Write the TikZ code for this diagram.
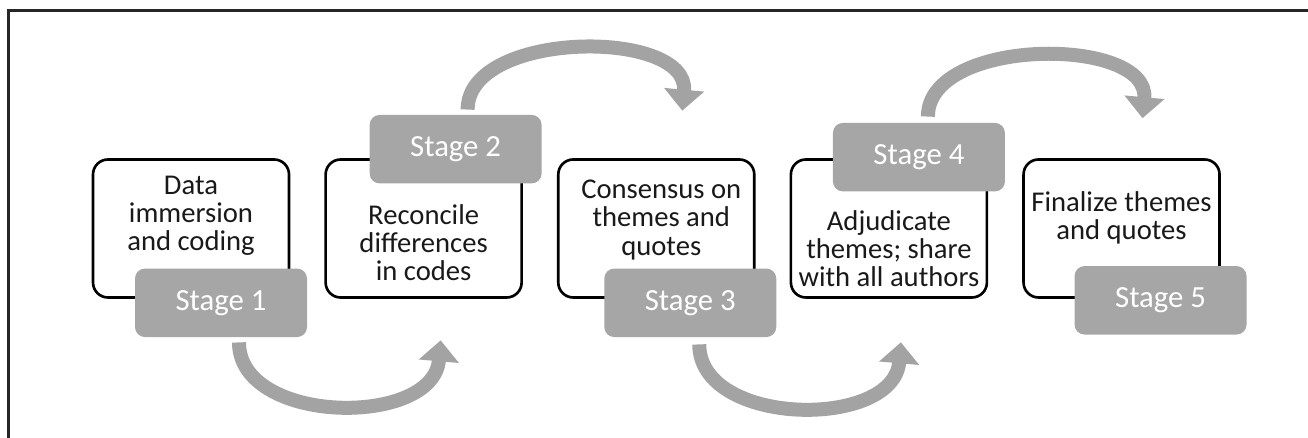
\documentclass[tikz,border=0pt]{standalone}
\usepackage{fontspec}
\setmainfont{Carlito}
\usetikzlibrary{positioning, arrows.meta}
\definecolor{stagegrey}{HTML}{A6A6A6}
\definecolor{flowgrey}{HTML}{A3A3A3}

\begin{document}
\begin{tikzpicture}[node distance=0.68cm,
    box/.style={draw, line width=1.5pt, rounded corners=0.3cm, minimum width=3.92cm, minimum height=2.76cm},
    txt/.style={align=center, text=black!90, font=\fontsize{16.3}{16}\selectfont},
    stagebox/.style={fill=stagegrey, rounded corners=0.2cm, minimum width=3.44cm, minimum height=1.37cm, text=white, font=\fontsize{17.5}{20}\selectfont},
    flow/.style={draw=flowgrey, line width=0.28cm, -{Triangle[width=0.78cm,length=0.42cm]}}]
      \useasboundingbox (0,0) rectangle (26.16,8.76);
      \draw[line width=1.2pt, black!85] (0.17,0) -- (0.17,8.55) -- (26.16,8.55);

      \node[box] (b_1) at (3.82,4.19) {};
      \node[box] (b_2) [right=of b_1] {};
      \node[box] (b_3) [right=of b_2] {};
      \node[box] (b_4) [right=of b_3] {};
      \node[box] (b_5) [right=of b_4] {};

      \node[txt] (t_1) at ([yshift=0.25cm]b_1.center) {Data\\immersion\\and coding};
      \node[txt] (t_2) at ([yshift=-0.29cm]b_2.center) {Reconcile\\differences\\in codes};
      \node[txt] (t_3) at ([xshift=0.1cm,yshift=0.17cm]b_3.center) {Consensus on\\themes and\\quotes};
      \node[txt] (t_4) at ([yshift=-0.4cm]b_4.center) {Adjudicate\\themes; share\\with all authors};
      \node[txt] (t_5) at ([yshift=0.21cm]b_5.center) {Finalize themes\\and quotes};

      \node[stagebox] (s_1) at ([shift={(0.60,-0.08)}]b_1.south) {Stage 1};
      \node[stagebox] (s_2) at ([shift={(0.64,0.18)}]b_2.north) {Stage 2};
      \node[stagebox] (s_3) at ([shift={(0.68,-0.08)}]b_3.south) {Stage 3};
      \node[stagebox] (s_4) at ([shift={(0.60,0.02)}]b_4.north) {Stage 4};
      \node[stagebox] (s_5) at ([shift={(0.78,-0.03)}]b_5.south) {Stage 5};

      \coordinate (e_1) at ([shift={(0.34,-0.83)}]b_2.south);
      \coordinate (e_2) at ([shift={(0.52,0.95)}]b_3.north);
      \coordinate (e_3) at ([shift={(0.24,-0.87)}]b_4.south);
      \coordinate (e_4) at ([shift={(0.42,0.80)}]b_5.north);

      \draw[flow] ([shift={(0.36,-0.1)}]s_1.south) .. controls +(0,-1.65) and +(-0.15,-1.75) .. (e_1);
      \draw[flow] ([shift={(0.24,0.1)}]s_2.north) .. controls +(0,1.6) and +(0.15,1.65) .. (e_2);
      \draw[flow] ([shift={(0.18,-0.14)}]s_3.south) .. controls +(0,-1.65) and +(-0.15,-1.75) .. (e_3);
      \draw[flow] ([shift={(0.18,0.12)}]s_4.north) .. controls +(0,1.6) and +(0.15,1.65) .. (e_4);
    \end{tikzpicture}
\end{document}
